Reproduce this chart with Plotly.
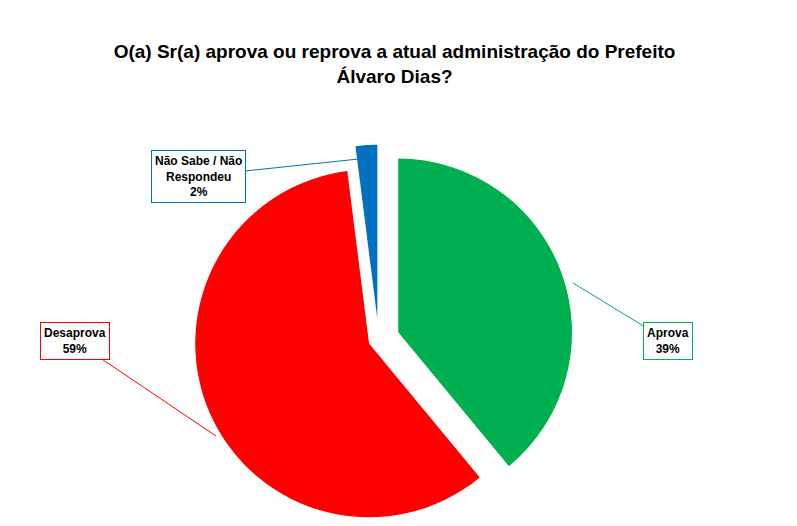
import plotly.graph_objects as go

labels = ["Aprova", "Desaprova", "Não Sabe / Não Respondeu"]
values = [39, 59, 2]
colors = ["#00B050", "#FF0000", "#0070C0"]
box_texts = ["<b>Aprova<br>39%</b>", "<b>Desaprova<br>59%</b>", "<b>Não Sabe / Não<br>Respondeu<br>2%</b>"]

W, H = 797, 526
fig = go.Figure(go.Pie(
    labels=labels, values=values, sort=False, direction="clockwise", rotation=0,
    marker=dict(colors=colors), pull=[0.12, 0.06, 0.12], textinfo="none",
    hoverinfo="label+percent", domain=dict(x=[0.18, 0.75], y=[0.0, 0.74]),
    showlegend=False,
))

def P(x, y):
    return x / W, 1 - y / H

ann = [
    ((565, 275), (660, 333), box_texts[0], colors[0]),
    ((208, 428), (67, 333), box_texts[1], colors[1]),
    ((360, 150), (190, 168), box_texts[2], colors[2]),
]
annotations = []
for (px, py), (tx, ty), t, c in ann:
    x, y = P(px, py)
    annotations.append(dict(
        x=x, y=y, xref="paper", yref="paper", text=t, showarrow=True,
        ax=tx - px, ay=ty - py, arrowhead=0, arrowwidth=1, arrowcolor=c,
        bordercolor=c, borderwidth=1, borderpad=3, bgcolor="white",
        font=dict(family="Liberation Sans", size=12, color="black"),
        align="center",
    ))

fig.update_layout(
    width=W, height=H, margin=dict(l=0, r=0, t=0, b=0),
    paper_bgcolor="white", plot_bgcolor="white",
    title=dict(text="<b>O(a) Sr(a) aprova ou reprova a atual administração do Prefeito<br>Álvaro Dias?</b>",
               x=0.485, xanchor="center", y=0.905, yanchor="top",
               font=dict(family="Liberation Sans", size=19, color="black")),
    annotations=annotations,
)
fig.write_html("out.html")
